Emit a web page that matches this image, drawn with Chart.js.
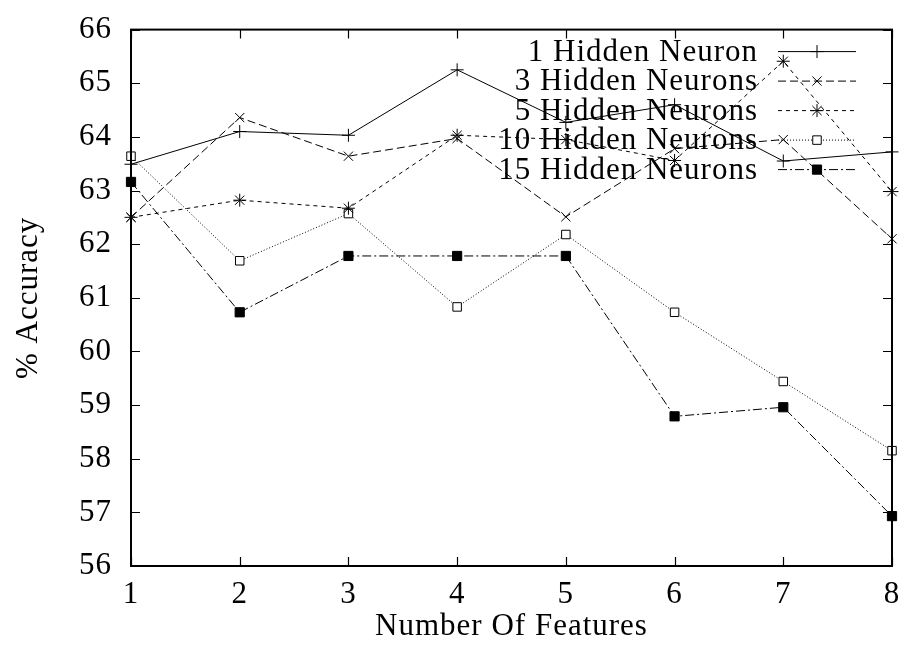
<!DOCTYPE html>
<html>
<head>
<meta charset="utf-8">
<script src="https://cdn.jsdelivr.net/npm/chart.js@4.4.1/dist/chart.umd.min.js"></script>
<style>
  html, body { margin: 0; padding: 0; background: #fff; }
  #wrap { width: 906px; height: 652px; }
</style>
</head>
<body>
<div id="wrap"><canvas id="acc"></canvas></div>
<script>
const features = [1, 2, 3, 4, 5, 6, 7, 8];
const neuron_labels = ['1 Hidden Neuron', '3 Hidden Neurons', '5 Hidden Neurons', '10 Hidden Neurons', '15 Hidden Neurons'];
const acc_1 = [63.49, 64.10, 64.03, 65.25, 64.27, 64.60, 63.55, 63.72];
const acc_3 = [62.50, 64.36, 63.64, 63.97, 62.51, 63.78, 63.95, 62.10];
const acc_5 = [62.50, 62.82, 62.67, 64.03, 63.95, 63.56, 65.41, 62.98];
const acc_10 = [63.64, 61.69, 62.57, 60.83, 62.18, 60.73, 59.44, 58.15];
const acc_15 = [63.16, 60.73, 61.78, 61.78, 61.78, 58.79, 58.96, 56.93];
const y_ticks = [56, 57, 58, 59, 60, 61, 62, 63, 64, 65, 66];

const serif = '"Liberation Serif", "DejaVu Serif", serif';

function points(values) {
    return features.map((f, i) => ({x: f, y: values[i]}));
}

// style per series: dash pattern and marker
const styles = [
    {dash: [], point: 'cross', r: 6.5, fill: '#000'},
    {dash: [8, 4], point: 'crossRot', r: 6.5, fill: '#000'},
    {dash: [4, 4], point: 'star', r: 6.5, fill: '#000'},
    {dash: [1, 2], point: 'rect', r: 6, fill: '#fff'},
    {dash: [9, 3, 2, 3], point: 'rect', r: 6.5, fill: '#000'},
];
const all_values = [acc_1, acc_3, acc_5, acc_10, acc_15];

const datasets = all_values.map((vals, i) => ({
    label: neuron_labels[i],
    data: points(vals),
    borderColor: '#000',
    borderWidth: 1,
    borderDash: styles[i].dash,
    pointStyle: styles[i].point,
    pointRadius: styles[i].r,
    pointBorderWidth: 1,
    pointBackgroundColor: styles[i].fill,
    pointBorderColor: '#000',
    tension: 0,
    fill: false,
    clip: 12,
}));

// wider letter spacing so the serif looks closer to the original
const spacingPlugin = {
    id: 'spacing',
    beforeLayout(chart) { chart.ctx.letterSpacing = '1px'; },
    beforeDraw(chart) { chart.ctx.letterSpacing = '1px'; },
};

// gnuplot style frame with inward ticks on all four sides
const framePlugin = {
    id: 'frame',
    afterDraw(chart) {
        const {ctx, chartArea: a, scales} = chart;
        ctx.save();
        ctx.strokeStyle = '#000';
        ctx.lineWidth = 2;
        ctx.setLineDash([]);
        ctx.strokeRect(a.left, a.top, a.right - a.left, a.bottom - a.top);
        ctx.lineWidth = 1.2;
        const len = 9;
        ctx.beginPath();
        scales.x.ticks.forEach(t => {
            const px = Math.round(scales.x.getPixelForValue(t.value)) + 0.5;
            ctx.moveTo(px, a.bottom); ctx.lineTo(px, a.bottom - len);
            ctx.moveTo(px, a.top); ctx.lineTo(px, a.top + len);
        });
        scales.y.ticks.forEach(t => {
            const py = Math.round(scales.y.getPixelForValue(t.value)) + 0.5;
            ctx.moveTo(a.left, py); ctx.lineTo(a.left + len, py);
            ctx.moveTo(a.right, py); ctx.lineTo(a.right - len, py);
        });
        ctx.stroke();

        // key, gnuplot style: text right aligned, sample to the right
        ctx.font = '31px ' + serif;
        ctx.letterSpacing = '1px';
        ctx.textAlign = 'right';
        ctx.textBaseline = 'middle';
        chart.data.datasets.forEach((ds, i) => {
            const y = a.top + 22 + i * 29.5;
            ctx.fillStyle = '#000';
            ctx.fillText(ds.label, a.right - 134, y + 1);
            ctx.lineWidth = 1;
            ctx.setLineDash(ds.borderDash);
            ctx.beginPath();
            ctx.moveTo(a.right - 114, y);
            ctx.lineTo(a.right - 36, y);
            ctx.stroke();
            ctx.setLineDash([]);
            ctx.fillStyle = ds.pointBackgroundColor;
            Chart.helpers.drawPoint(ctx, {
                pointStyle: ds.pointStyle,
                radius: ds.pointRadius,
                rotation: 0,
                borderWidth: 1,
            }, a.right - 75, y);
        });
        ctx.restore();
    }
};

new Chart(document.getElementById('acc'), {
    type: 'line',
    data: {datasets: datasets},
    plugins: [spacingPlugin, framePlugin],
    options: {
        responsive: true,
        maintainAspectRatio: false,
        animation: false,
        layout: {padding: {left: 0, top: 23, right: 14, bottom: 0}},
        plugins: {
            legend: {display: false},
            tooltip: {enabled: false},
        },
        scales: {
            x: {
                type: 'linear',
                min: 1,
                max: 8,
                grid: {display: false},
                border: {display: false},
                ticks: {
                    stepSize: 1,
                    padding: 2,
                    color: '#000',
                    font: {family: serif, size: 31},
                },
                title: {
                    display: true,
                    text: 'Number Of Features',
                    color: '#000',
                    font: {family: serif, size: 31},
                    padding: {top: 0, bottom: 7},
                },
                afterFit(scale) { scale.height = 86; },
            },
            y: {
                min: 56,
                max: 66,
                grid: {display: false},
                border: {display: false},
                afterBuildTicks(scale) {
                    scale.ticks = y_ticks.map(v => ({value: v}));
                },
                ticks: {
                    padding: 11,
                    color: '#000',
                    font: {family: serif, size: 31},
                },
                title: {
                    display: true,
                    text: '% Accuracy',
                    color: '#000',
                    font: {family: serif, size: 31},
                    padding: {top: 10, bottom: 10},
                },
                afterFit(scale) { scale.width = 131; },
            },
        },
    },
});
</script>
</body>
</html>
